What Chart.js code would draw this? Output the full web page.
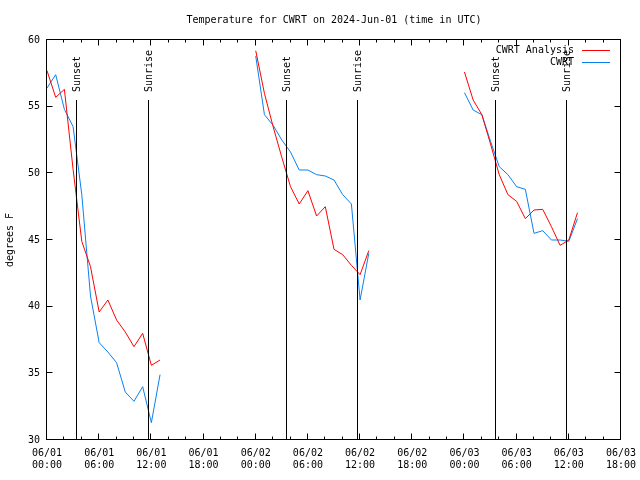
<!DOCTYPE html>
<html>
<head>
<meta charset="utf-8">
<title>Temperature for CWRT</title>
<script src="https://cdn.jsdelivr.net/npm/chart.js@4"></script>
<style>
  html, body { margin: 0; padding: 0; background: #fff; }
</style>
</head>
<body>
<canvas id="myChart" width="640" height="480"></canvas>
<script>
// hours since 2024-06-01 00:00 UTC, one block per day
var hours1 = [0, 1, 2, 3, 4, 5, 6, 7, 8, 9, 10, 11, 12, 13];
var hours2 = [24, 25, 26, 27, 28, 29, 30, 31, 32, 33, 34, 35, 36, 37];
var hours3 = [48, 49, 50, 51, 52, 53, 54, 55, 56, 57, 58, 59, 60, 61];

// CWRT Analysis (red)
var analysis1 = [57.7, 55.7, 56.3, 50.3, 44.9, 43.0, 39.6, 40.5, 39.0, 38.1, 37.0, 38.0, 35.6, 36.0];
var analysis2 = [59.2, 56.0, 53.5, 51.2, 49.0, 47.7, 48.7, 46.8, 47.5, 44.3, 43.9, 43.1, 42.4, 44.2];
var analysis3 = [57.6, 55.5, 54.4, 52.2, 49.9, 48.4, 47.9, 46.6, 47.25, 47.3, 46.0, 44.6, 45.0, 47.05];

// CWRT observed (blue)
var obs1 = [56.4, 57.4, 54.8, 53.5, 48.4, 40.8, 37.3, 36.6, 35.8, 33.6, 32.9, 34.0, 31.3, 34.9];
var obs2 = [58.8, 54.4, 53.6, 52.5, 51.6, 50.25, 50.25, 49.9, 49.8, 49.5, 48.4, 47.7, 40.5, 44.0];
var obs3 = [56.05, 54.75, 54.4, 52.4, 50.5, 49.9, 49.0, 48.8, 45.5, 45.7, 45.0, 45.0, 44.9, 46.6];

var sunsetHours = [3.45, 27.6, 51.62];
var sunriseHours = [11.75, 35.78, 59.8];

var xTickValues = [0, 6, 12, 18, 24, 30, 36, 42, 48, 54, 60, 66];
var xTickLabels = ['06/01 00:00', '06/01 06:00', '06/01 12:00', '06/01 18:00',
	'06/02 00:00', '06/02 06:00', '06/02 12:00', '06/02 18:00',
	'06/03 00:00', '06/03 06:00', '06/03 12:00', '06/03 18:00'];
var yTicks = [30, 35, 40, 45, 50, 55, 60];

var seriesNames = ['CWRT Analysis', 'CWRT'];
var seriesColors = ['#ff0000', '#0a80f0'];
var chartTitle = 'Temperature for CWRT on 2024-Jun-01 (time in UTC)';
var FONT = '"DejaVu Sans Mono", "Liberation Mono", monospace';

// join the day blocks, with a null between them so the line breaks
function joinBlocks(hourBlocks, valueBlocks){
	var out = [];
	for(var b=0; b<hourBlocks.length; b++){
		if(b > 0)
			out.push({x: hourBlocks[b][0] - 0.5, y: null});
		for(var i=0; i<hourBlocks[b].length; i++)
			out.push({x: hourBlocks[b][i], y: valueBlocks[b][i]});
	}
	return out;
}

// border, inward ticks, sun lines, legend and title (gnuplot look)
var gnuplotDecor = {
	id: 'gnuplotDecor',
	afterDraw: function(chart){
		var ctx = chart.ctx;
		var a = chart.chartArea;
		var xs = chart.scales.x, ys = chart.scales.y;
		ctx.save();
		ctx.strokeStyle = '#000';
		ctx.lineWidth = 1;

		var L = Math.round(a.left) - 0.5, R = Math.round(a.right) - 0.5;
		var T = Math.round(a.top) - 0.5, B = Math.round(a.bottom) - 0.5;
		ctx.strokeRect(L, T, R - L, B - T);

		ctx.beginPath();
		for(var h=0; h<=66; h+=2){
			var px = Math.round(xs.getPixelForValue(h)) - 0.5;
			var len = (h % 6 == 0) ? 6 : 3;
			ctx.moveTo(px, B); ctx.lineTo(px, B - len);
			ctx.moveTo(px, T); ctx.lineTo(px, T + len);
		}
		for(var i=0; i<yTicks.length; i++){
			var py = Math.round(ys.getPixelForValue(yTicks[i])) - 0.5;
			ctx.moveTo(L, py); ctx.lineTo(L + 6, py);
			ctx.moveTo(R, py); ctx.lineTo(R - 6, py);
		}
		ctx.stroke();

		// sunset / sunrise markers
		var lineTop = a.bottom - 0.85 * (a.bottom - a.top);
		var textStart = a.bottom - 0.87 * (a.bottom - a.top);
		ctx.font = '10px ' + FONT;
		ctx.fillStyle = '#000';
		function sunMark(hour, label){
			var px = Math.round(xs.getPixelForValue(hour)) - 0.5;
			ctx.beginPath();
			ctx.moveTo(px, B); ctx.lineTo(px, lineTop);
			ctx.stroke();
			ctx.save();
			ctx.translate(px + 0.5, textStart);
			ctx.rotate(-Math.PI / 2);
			ctx.textAlign = 'left';
			ctx.textBaseline = 'middle';
			ctx.fillText(label, 0, 0);
			ctx.restore();
		}
		for(var s=0; s<sunsetHours.length; s++)
			sunMark(sunsetHours[s], 'Sunset');
		for(var r=0; r<sunriseHours.length; r++)
			sunMark(sunriseHours[r], 'Sunrise');

		// legend, top right inside the plot
		ctx.textAlign = 'right';
		ctx.textBaseline = 'middle';
		for(var k=0; k<seriesNames.length; k++){
			var ly = a.top + 10 + k * 12;
			ctx.fillStyle = '#000';
			ctx.fillText(seriesNames[k], a.right - 47, ly);
			ctx.strokeStyle = seriesColors[k];
			ctx.beginPath();
			ctx.moveTo(a.right - 39, Math.round(ly) + 0.5);
			ctx.lineTo(a.right - 11, Math.round(ly) + 0.5);
			ctx.stroke();
		}

		// title
		ctx.fillStyle = '#000';
		ctx.textAlign = 'center';
		ctx.fillText(chartTitle, (a.left + a.right) / 2, 20);
		ctx.restore();
	}
};

var ctx = document.getElementById('myChart').getContext('2d');
var myChart = new Chart(ctx, {
	type: 'line',
	data: {
		datasets: [{
			label: seriesNames[0],
			data: joinBlocks([hours1, hours2, hours3], [analysis1, analysis2, analysis3]),
			borderColor: seriesColors[0],
			borderWidth: 1,
			pointRadius: 0,
			tension: 0,
			spanGaps: false
		}, {
			label: seriesNames[1],
			data: joinBlocks([hours1, hours2, hours3], [obs1, obs2, obs3]),
			borderColor: seriesColors[1],
			borderWidth: 1,
			pointRadius: 0,
			tension: 0,
			spanGaps: false
		}]
	},
	options: {
		responsive: false,
		animation: false,
		devicePixelRatio: 1,
		layout: { padding: { top: 40, right: 19, left: 0, bottom: 0 } },
		plugins: {
			legend: { display: false },
			tooltip: { enabled: false }
		},
		scales: {
			x: {
				type: 'linear',
				min: 0,
				max: 66,
				afterBuildTicks: function(scale){
					scale.ticks = xTickValues.map(function(v){ return {value: v}; });
				},
				afterFit: function(scale){
					scale.height = 40;
					scale.paddingLeft = 0;
					scale.paddingRight = 0;
				},
				grid: { display: false, drawTicks: false },
				border: { display: false },
				ticks: {
					autoSkip: false,
					maxRotation: 0,
					padding: 7,
					color: '#000',
					font: { family: FONT, size: 10, lineHeight: 1.25 },
					callback: function(value, index){
						return xTickLabels[index].split(' ');
					}
				}
			},
			y: {
				min: 30,
				max: 60,
				afterBuildTicks: function(scale){
					scale.ticks = yTicks.map(function(v){ return {value: v}; });
				},
				afterFit: function(scale){ scale.width = 47; },
				grid: { display: false, drawTicks: false },
				border: { display: false },
				title: {
					display: true,
					text: 'degrees F',
					color: '#000',
					font: { family: FONT, size: 10 },
					padding: { top: 4, bottom: 0 }
				},
				ticks: {
					padding: 7,
					color: '#000',
					font: { family: FONT, size: 10 }
				}
			}
		}
	},
	plugins: [gnuplotDecor]
});
</script>
</body>
</html>
